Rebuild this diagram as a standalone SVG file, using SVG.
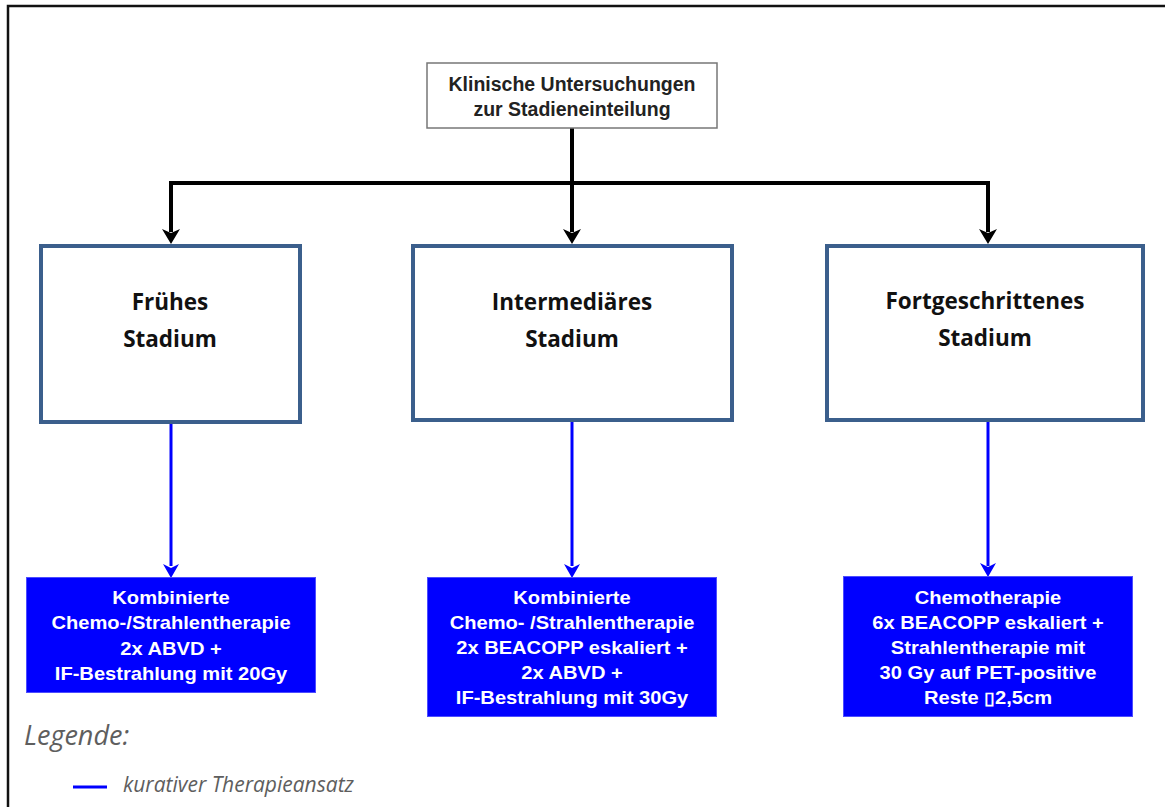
<svg xmlns="http://www.w3.org/2000/svg" width="1165" height="807" viewBox="0 0 1165 807">
<style>
.top{fill:#fff;stroke:#777;stroke-width:1.5}
.stage{fill:#fff;stroke:#3b5f8c;stroke-width:4}
.cure{fill:#0000ff;stroke:#4d4dff;stroke-width:1}
.t1{font-family:"Liberation Sans",Arial,sans-serif;font-weight:bold;font-size:19.5px;fill:#222;text-anchor:middle}
.t2{font-family:"Open Sans","Lato",sans-serif;font-weight:bold;font-size:22.5px;fill:#111;text-anchor:middle}
.t3{font-family:"Liberation Sans",Arial,sans-serif;font-weight:bold;font-size:17.5px;fill:#fff;text-anchor:middle}
.leg{font-family:"Open Sans","Lato",sans-serif;font-style:italic;fill:#5e5e5e}
.bk{stroke:#000;stroke-width:4;fill:none}
.bl{stroke:#0000ff;stroke-width:3;fill:none}
</style>
<defs>
<path id="hb" d="M-9,-15 L0,0 L9,-15 L0,-11 Z"/>
<path id="hs" d="M-8,-14 L0,0 L8,-14 L0,-10 Z"/>
</defs>
<rect x="0" y="0" width="1165" height="807" fill="#fff"/>
<path d="M8,807 V6 H1165" fill="none" stroke="#111" stroke-width="2.5"/>
<g id="connectors">
<path class="bk" d="M572,128 V232"/>
<path class="bk" d="M171,232 V183 H988 V232"/>
<use href="#hb" x="171" y="244" fill="#000"/>
<use href="#hb" x="572" y="244" fill="#000"/>
<use href="#hb" x="988" y="244" fill="#000"/>
<path class="bl" d="M171,423 V566"/>
<path class="bl" d="M572,422 V566"/>
<path class="bl" d="M988,422 V566"/>
<use href="#hs" x="171" y="578" fill="#0000ff"/>
<use href="#hs" x="572" y="578" fill="#0000ff"/>
<use href="#hs" x="988" y="577" fill="#0000ff"/>
</g>
<g id="n-top">
<rect class="top" x="427" y="63" width="290" height="65"/>
<text class="t1" x="572" y="91">Klinische Untersuchungen</text>
<text class="t1" x="572" y="116">zur Stadieneinteilung</text>
</g>
<g id="n-frueh">
<rect class="stage" x="41" y="246" width="259" height="176"/>
<text class="t2" x="170" y="310">Frühes</text>
<text class="t2" x="170" y="347">Stadium</text>
</g>
<g id="n-inter">
<rect class="stage" x="413" y="246" width="319" height="174"/>
<text class="t2" x="572" y="310">Intermediäres</text>
<text class="t2" x="572" y="347">Stadium</text>
</g>
<g id="n-fort">
<rect class="stage" x="827" y="246" width="316" height="174"/>
<text class="t2" x="985" y="309">Fortgeschrittenes</text>
<text class="t2" x="985" y="346">Stadium</text>
</g>
<g id="n-cure1">
<rect class="cure" x="26.5" y="577.5" width="289" height="115"/>
<g transform="translate(171,0) scale(1.15,1)">
<text class="t3" x="0" y="604">Kombinierte</text>
<text class="t3" x="0" y="629">Chemo-/Strahlentherapie</text>
<text class="t3" x="0" y="655">2x ABVD +</text>
<text class="t3" x="0" y="680">IF-Bestrahlung mit 20Gy</text>
</g>
</g>
<g id="n-cure2">
<rect class="cure" x="427.5" y="577.5" width="289" height="139"/>
<g transform="translate(572,0) scale(1.15,1)">
<text class="t3" x="0" y="604">Kombinierte</text>
<text class="t3" x="0" y="629">Chemo- /Strahlentherapie</text>
<text class="t3" x="0" y="654">2x BEACOPP eskaliert +</text>
<text class="t3" x="0" y="679">2x ABVD +</text>
<text class="t3" x="0" y="704">IF-Bestrahlung mit 30Gy</text>
</g>
</g>
<g id="n-cure3">
<rect class="cure" x="843.5" y="576.5" width="289" height="140"/>
<g transform="translate(988,0) scale(1.15,1)">
<text class="t3" x="0" y="604">Chemotherapie</text>
<text class="t3" x="0" y="629">6x BEACOPP eskaliert +</text>
<text class="t3" x="0" y="654">Strahlentherapie mit</text>
<text class="t3" x="0" y="679">30 Gy auf PET-positive</text>
<text class="t3" x="0" y="704">Reste ▯2,5cm</text>
</g>
</g>
<g id="legend">
<text class="leg" x="24" y="745" font-size="27">Legende:</text>
<line x1="73" y1="787" x2="107" y2="787" stroke="#0000ff" stroke-width="3"/>
<text class="leg" x="123" y="792" font-size="21">kurativer Therapieansatz</text>
</g>
</svg>
